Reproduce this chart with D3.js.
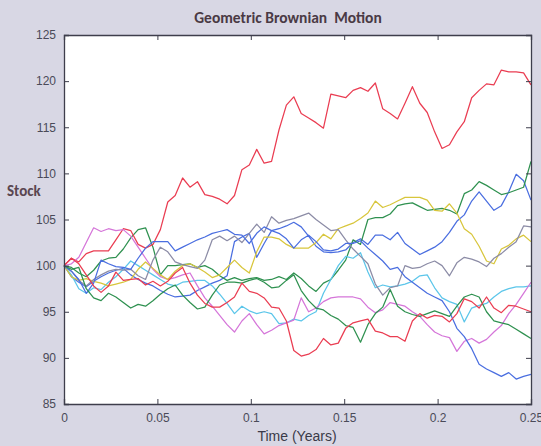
<!DOCTYPE html>
<html>
<head>
<meta charset="utf-8">
<script src="https://cdn.jsdelivr.net/npm/d3@7"></script>
<style>
body { margin:0; background:#d8d7e4; }
text { font-family: "Liberation Sans", Arial, sans-serif; }
</style>
</head>
<body>
<svg id="chart" width="541" height="446"></svg>
<script>
// 10 simulated paths, 63 trading-day steps over a quarter year
var nSteps = 63;
var times = d3.range(nSteps + 1).map(function(i){ return i / 252; });

var xTicks = [0, 0.05, 0.1, 0.15, 0.2, 0.25];
var yTicks = [85, 90, 95, 100, 105, 110, 115, 120, 125];

var blue1 = [100,98.8,98.2,97.7,98.3,98.8,99.2,99.5,99.7,99.0,98.5,98.1,97.8,97.3,96.9,96.6,96.7,96.8,97.3,97.7,98.1,98.4,98.9,102.6,103.1,103.5,100.9,102.4,103.8,104.0,104.3,104.7,104.2,103.2,102.1,101.5,101.4,101.5,101.7,102.5,102.9,102.3,103.3,103.3,102.8,103.6,102.4,101.8,101.2,101.6,102.0,102.6,103.6,104.8,105.5,107.0,108.0,107.0,106.0,106.5,108.0,109.9,109.2,107.1];
var green1 = [100,99.8,99.2,98.8,99.5,100.5,100.8,100.9,101.8,103.0,103.9,104.1,102.0,99.0,100.0,100.0,100.1,100.2,99.8,100.0,99.6,98.9,98.4,98.7,98.4,98.6,98.7,98.4,98.5,98.8,98.5,99.2,98.6,97.8,97.2,98.1,98.5,99.5,100.6,102.8,102.3,105.0,105.2,105.2,105.6,106.5,106.7,106.8,106.4,106.0,106.1,106.2,106.0,105.6,107.8,108.2,109.1,108.7,108.2,107.7,107.9,108.2,108.5,111.3];
var red1 = [100,100.8,100.4,101.3,101.6,101.6,101.6,102.8,104.0,103.8,102.3,101.9,102.3,103.9,106.9,107.6,109.5,108.5,109.1,107.7,107.5,107.2,106.7,107.6,110.4,110.9,112.6,111.1,111.3,114.7,117.4,118.3,116.5,116.0,115.5,114.9,118.6,118.4,118.2,119.0,119.3,118.9,119.8,117.0,116.5,115.9,117.6,119.4,117.6,116.6,114.5,112.7,113.1,114.5,115.6,118.2,119.0,119.7,119.6,121.2,121.0,121.0,120.9,119.6];
var cyan1 = [100,99.0,97.5,97.0,97.6,97.4,98.2,98.8,99.6,100.5,100.0,99.5,99.0,98.5,98.0,97.8,98.2,98.3,98.4,98.4,97.8,96.9,95.9,94.8,95.6,95.1,94.8,95.0,94.8,93.7,93.8,94.2,94.0,94.6,95.0,97.0,98.5,100.0,101.0,100.8,101.4,99.3,97.6,97.9,97.7,97.8,98.0,98.3,98.9,99.0,97.6,96.5,96.1,95.8,93.9,95.4,95.7,95.9,96.6,97.2,97.5,97.7,97.7,97.8];
var magenta1 = [100,100.2,100.9,102.5,104.1,103.7,104.0,103.8,103.9,103.2,102.0,100.8,99.6,98.8,98.5,98.7,99.0,99.2,97.8,96.5,95.6,94.6,93.6,92.8,94.0,94.8,93.6,92.6,93.0,93.5,93.8,94.1,96.5,95.0,95.4,96.1,96.5,96.6,96.6,96.6,96.4,95.5,94.9,95.2,96.0,95.8,95.6,95.0,94.5,93.6,92.8,92.4,92.2,90.7,91.8,92.1,91.6,92.0,92.8,93.5,94.8,95.8,97.0,98.2];
var yellow1 = [100,98.8,98.4,98.6,98.3,98.1,97.8,98.0,98.2,98.5,99.6,100.4,99.7,99.0,98.5,99.4,100.0,100.2,99.8,99.3,98.7,99.0,99.8,100.6,99.8,99.2,101.5,103.1,103.1,102.9,102.3,101.9,101.9,101.9,102.5,103.4,102.9,104.0,104.3,104.6,105.1,105.7,107.0,106.3,106.6,107.0,107.4,107.4,107.4,107.1,106.0,105.9,106.7,105.7,104.0,103.4,102.1,100.5,100.2,101.8,102.2,102.9,103.3,102.6];
var black1 = [100,99.4,98.4,97.8,98.5,99.0,99.4,99.6,99.5,99.6,98.9,98.5,100.6,102.0,101.5,100.4,100.1,99.9,99.7,100.6,102.8,103.2,102.7,103.2,102.5,103.5,104.5,103.6,105.3,104.6,104.9,105.1,105.4,105.7,105.0,104.4,103.8,103.9,102.8,101.8,101.0,100.2,98.0,96.8,97.6,97.8,100.0,99.7,99.8,100.2,100.5,100.0,98.9,100.3,100.9,100.7,100.4,99.9,100.8,101.3,102.0,102.6,104.3,104.2];
var blue2 = [100,99.4,98.5,97.0,98.1,100.6,100.2,99.9,99.8,99.6,100.8,101.9,102.6,102.6,102.6,101.6,102.0,102.4,102.8,103.1,103.5,103.7,103.9,103.4,103.3,102.4,103.5,104.2,103.8,103.5,102.9,101.9,102.8,103.3,102.6,101.7,101.6,101.8,102.4,102.4,102.7,101.9,101.2,100.5,99.6,99.8,98.8,98.2,97.6,97.0,96.6,96.2,95.0,93.2,92.3,91.0,89.3,88.8,88.4,88.0,88.4,87.7,88.0,88.2];
var green2 = [100,99.6,99.8,97.5,96.5,96.2,97.0,96.6,96.0,95.4,95.8,95.6,96.2,96.9,97.5,97.9,96.8,96.0,95.3,95.5,96.8,97.9,98.2,98.2,98.1,98.4,98.6,98.2,97.6,97.7,98.4,99.0,97.3,96.2,95.4,95.2,94.6,94.2,93.5,93.3,91.7,93.6,94.8,95.5,97.4,95.6,95.0,94.7,94.5,94.8,95.1,94.8,94.5,95.6,96.6,96.9,96.6,95.0,94.0,93.8,93.6,93.1,92.6,92.1];
var red2 = [100,100.8,100.2,99.0,97.8,97.1,97.8,99.3,98.4,98.5,98.6,97.9,98.3,97.8,98.3,99.2,99.8,98.1,96.8,95.9,95.5,95.5,96.0,96.6,98.1,97.2,97.0,96.5,95.5,95.4,94.0,90.8,90.2,90.4,90.9,92.1,91.4,91.6,93.2,93.8,94.0,94.2,92.9,92.7,92.3,92.3,91.8,94.0,94.8,94.3,94.6,94.5,93.9,94.8,96.4,96.1,95.4,96.6,95.4,94.9,95.7,95.6,95.3,95.0];

// matlab default colour order b g r c m y k, faded like the scan
var series = [
  {v: blue1, c: "#4a6ee0"}, {v: green1, c: "#2f9150"}, {v: red1, c: "#ea3d52"},
  {v: cyan1, c: "#5cc6ea"}, {v: magenta1, c: "#d576d9"}, {v: yellow1, c: "#d8c63c"},
  {v: black1, c: "#8c8ca6"}, {v: blue2, c: "#4a6ee0"}, {v: green2, c: "#2f9150"},
  {v: red2, c: "#ea3d52"}
];

var svg = d3.select("#chart");
var pLeft = 64, pRight = 531, pTop = 35, pBottom = 404;

var x = d3.scaleLinear().domain([0, 0.25]).range([pLeft, pRight]);
var y = d3.scaleLinear().domain([85, 125]).range([pBottom, pTop]);

svg.append("rect")
  .attr("x", pLeft).attr("y", pTop)
  .attr("width", pRight - pLeft).attr("height", pBottom - pTop)
  .attr("fill", "#ffffff");

var line = d3.line()
  .x(function(d, i){ return x(times[i]); })
  .y(function(d){ return y(d); });

var g = svg.append("g");
series.forEach(function(s){
  g.append("path")
    .attr("d", line(s.v))
    .attr("fill", "none")
    .attr("stroke", s.c)
    .attr("stroke-width", 1.25)
    .attr("stroke-linejoin", "round");
});

// box with inward ticks on all sides
var axisCol = "#3e3e4c";
svg.append("g").attr("transform", "translate(0," + pBottom + ")")
  .call(d3.axisBottom(x).tickValues(xTicks).tickSize(-5).tickPadding(9)
    .tickFormat(function(d){ return d === 0 ? "0" : String(d); }));
svg.append("g").attr("transform", "translate(0," + pTop + ")")
  .call(d3.axisTop(x).tickValues(xTicks).tickSize(-5).tickFormat(""));
svg.append("g").attr("transform", "translate(" + pLeft + ",0)")
  .call(d3.axisLeft(y).tickValues(yTicks).tickSize(-5).tickPadding(8));
svg.append("g").attr("transform", "translate(" + pRight + ",0)")
  .call(d3.axisRight(y).tickValues(yTicks).tickSize(-5).tickFormat(""));

svg.selectAll(".domain").attr("stroke", axisCol).attr("stroke-width", 1.3);
svg.selectAll(".tick line").attr("stroke", axisCol);
svg.selectAll(".tick text").attr("fill", "#4a4a58").style("font-size", "12px")
  .style("font-family", "'Liberation Sans', Arial, sans-serif");

svg.append("text")
  .attr("x", 288).attr("y", 23)
  .attr("text-anchor", "middle")
  .style("font-family", "Carlito, 'Open Sans', sans-serif")
  .style("font-size", "15.5px").style("font-weight", "bold")
  .attr("fill", "#4a3a44")
  .attr("xml:space", "preserve")
  .text("Geometric Brownian  Motion");

svg.append("text")
  .attr("x", 7).attr("y", 196)
  .style("font-family", "Carlito, 'Open Sans', sans-serif")
  .style("font-size", "15px").style("font-weight", "bold")
  .attr("fill", "#5a4650")
  .text("Stock");

svg.append("text")
  .attr("x", 297).attr("y", 441)
  .attr("text-anchor", "middle")
  .style("font-size", "14px")
  .attr("fill", "#3a3a48")
  .text("Time (Years)");
</script>
</body>
</html>
